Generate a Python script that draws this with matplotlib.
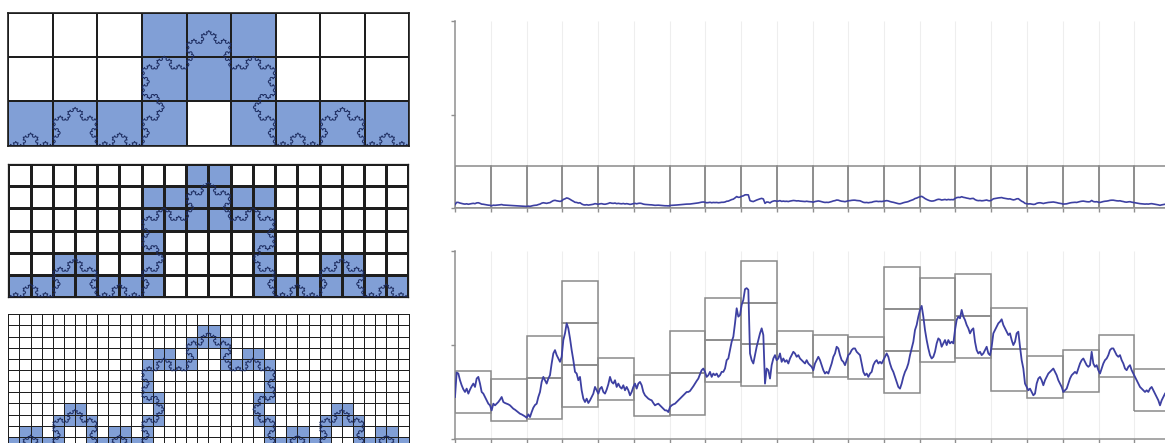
import numpy as np
import matplotlib.pyplot as plt
from matplotlib.colors import ListedColormap
from matplotlib.patches import Rectangle

# occupied boxes for the Koch curve, one list of columns per row (row 0 = bottom)
grid9 = [[0, 1, 2, 3, 5, 6, 7, 8],
         [3, 4, 5],
         [3, 4, 5]]
grid18 = [[0, 1, 2, 3, 4, 5, 6, 11, 12, 13, 14, 15, 16, 17],
          [2, 3, 6, 11, 14, 15],
          [6, 11],
          [6, 7, 8, 9, 10, 11],
          [6, 7, 8, 9, 10, 11],
          [8, 9]]
grid36 = [[0, 1, 2, 3, 4, 7, 8, 9, 10, 11, 12, 23, 24, 25, 26, 27, 28, 31, 32, 33, 34, 35],
          [1, 2, 4, 7, 9, 10, 12, 23, 25, 26, 28, 31, 33, 34],
          [4, 5, 6, 7, 12, 13, 22, 23, 28, 29, 30, 31],
          [5, 6, 13, 22, 29, 30],
          [12, 13, 22, 23],
          [12, 23],
          [12, 23],
          [12, 13, 14, 15, 16, 19, 20, 21, 22, 23],
          [13, 14, 16, 19, 21, 22],
          [16, 17, 18, 19],
          [17, 18],
          []]

# the walk, 21.45 samples per box
signal = [
    124, 197, 194, 174, 159, 147, 139, 149, 134, 146,
    156, 164, 154, 179, 184, 164, 139, 134, 124, 114,
    104, 99, 84, 104, 99, 104, 109, 116, 124, 109,
    106, 104, 102, 99, 94, 89, 86, 82, 78, 74,
    72, 69, 66, 62, 72, 64, 79, 92, 100, 104,
    124, 139, 169, 184, 174, 164, 179, 189, 224, 254,
    264, 249, 239, 229, 244, 294, 314, 344, 329, 299,
    264, 234, 199, 194, 174, 184, 144, 119, 109, 119,
    106, 114, 124, 134, 154, 144, 134, 149, 154, 139,
    134, 146, 162, 184, 169, 164, 174, 154, 164, 154,
    149, 159, 144, 154, 144, 129, 139, 154, 164, 149,
    164, 169, 159, 139, 129, 124, 119, 116, 114, 106,
    99, 102, 104, 99, 94, 89, 84, 84, 79, 94,
    99, 102, 104, 109, 114, 119, 124, 129, 134, 139,
    139,
    142, 149, 156, 164, 172, 179, 192, 204, 209, 199,
    184, 189, 199, 184, 194, 189, 194, 184, 189, 199,
    199, 209, 234, 239, 264, 289, 304, 344, 389, 364,
    369, 399, 414, 446, 449, 444, 254, 234, 224, 249,
    274, 294, 314, 329, 309, 164, 209, 204, 179, 219,
    239, 249, 234, 239, 254, 229, 239, 229, 234, 224,
    239, 249, 259, 254, 244, 249, 239, 234, 229, 224,
    234, 224, 219, 214, 204, 224, 234, 244, 234, 219,
    204, 194, 199, 194, 209, 224, 244, 254, 274, 269,
    249, 234, 229, 219, 234, 249, 254, 264, 269, 269,
    259, 254, 249, 224, 199, 189, 194, 184, 194, 199,
    219, 229, 234, 224, 229, 224, 234, 244, 254, 244,
    224, 209, 199, 184, 169, 154, 149, 164, 184, 199,
    209, 224, 249, 269, 289, 324, 339, 364, 384, 396,
    364, 324, 294, 269,
    249, 239, 244, 259, 284, 299, 294, 274, 284, 294,
    279, 294, 284, 289, 284, 324, 354, 364, 359, 384,
    364, 354, 339, 329, 314, 324, 329, 289, 264, 254,
    259, 249, 254, 264, 274, 254, 249, 274, 314, 324,
    334, 344, 349, 356, 339, 329, 319, 309, 314, 294,
    279, 289, 314, 319, 274, 234, 209, 164, 154, 144,
    149, 139, 129, 134, 164, 179, 184, 174, 159, 174,
    184, 194, 199, 204, 209, 199, 189, 174, 164, 154,
    139, 144, 149, 164, 179, 189, 194, 199, 194, 209,
    224, 234, 239, 229, 219, 214, 219, 259, 224, 214,
    219, 204, 194, 209, 224, 234, 239, 249, 264, 269,
    269, 259, 249, 244, 249, 234, 224, 209, 204, 214,
    219, 204, 194, 184, 174, 164, 154, 149, 144, 139,
    144, 139, 149, 154, 144, 134, 124, 114, 99, 114,
    124, 134,
]
per_box = 21.45

# fine boxes stacked in each window: lowest edge and how many
box_bottom = [76, 52, 57, 94, 116, 66, 71, 169, 156, 197,
              184, 177, 137, 229, 241, 141, 121, 139, 184, 82]
box_count = [1, 1, 2, 3, 1, 1, 2, 2, 3, 1, 1, 1, 3, 2, 2, 2, 1, 1, 1, 1]
box_h = 125
coarse = 0.09   # vertical squeeze of the walk in the upper plot

fill = '#819fd6'
edge = '#1e1e1e'
navy = '#1c2b5e'
walk_col = '#3d40a2'
box_col = '#8a8a8a'
axis_col = '#8f8f8f'


def koch(level):
    pts = np.array([[0.0, 0.0], [1.0, 0.0]])
    c, s = 0.5, np.sqrt(3) / 2
    for _ in range(level):
        new = [pts[0]]
        for a, b in zip(pts[:-1], pts[1:]):
            d = (b - a) / 3
            p1 = a + d
            peak = p1 + np.array([c * d[0] - s * d[1], s * d[0] + c * d[1]])
            new += [p1, peak, a + 2 * d, b]
        pts = np.array(new)
    return pts


def draw_boxes(ax, rows, ncol, nrow, lw):
    mask = np.zeros((nrow, ncol))
    for r, cols in enumerate(rows):
        mask[r, cols] = 1
    ax.pcolormesh(np.arange(ncol + 1), np.arange(nrow + 1), mask,
                  cmap=ListedColormap(['white', fill]), vmin=0, vmax=1,
                  edgecolors=edge, linewidth=lw)
    k = koch(5) * ncol
    ax.plot(k[:, 0], k[:, 1], color=navy, lw=0.7)
    ax.set_xlim(0, ncol)
    ax.set_ylim(0, nrow)
    ax.set_xticks([])
    ax.set_yticks([])
    for sp in ax.spines.values():
        sp.set_color(edge)
        sp.set_linewidth(lw)


W, H = 1165, 443
fig = plt.figure(figsize=(W / 100, H / 100), dpi=100)


def px_axes(x0, y0, x1, y1):
    return fig.add_axes([x0 / W, 1 - y1 / H, (x1 - x0) / W, (y1 - y0) / H])


draw_boxes(px_axes(8.3, 12.7, 409.3, 145.7), grid9, 9, 3, 1.2)
draw_boxes(px_axes(8.3, 164.3, 408.5, 296.7), grid18, 18, 6, 0.9)
draw_boxes(px_axes(8.3, 314.3, 408.7, 447.9), grid36, 36, 12, 0.72)

x = np.arange(len(signal)) / per_box
y = np.array(signal, dtype=float)
ncols = len(box_count)

ax_top = px_axes(455, 20.7, 1170, 208.3)
ax_bot = px_axes(455, 251, 1170, 438.5)

for ax in (ax_top, ax_bot):
    ax.set_xlim(0, ncols)
    ax.set_ylim(0, 560)
    ax.vlines(np.arange(1, ncols + 1), 0, 560, color='#eeeeee', lw=0.8, zorder=0)
    for side in ('top', 'right'):
        ax.spines[side].set_visible(False)
    for side in ('left', 'bottom'):
        ax.spines[side].set_color(axis_col)
        ax.spines[side].set_linewidth(1.1)
    ax.set_yticks([0, 280, 560])
    ax.set_xticks(np.arange(ncols + 1))
    ax.set_xticklabels([])
    ax.set_yticklabels([])
    ax.tick_params(length=3, width=1, color=axis_col)

# coarse scale: one box per window
ax_top.plot(x, y * coarse, color=walk_col, lw=1.2, zorder=3)
for c in range(ncols):
    ax_top.add_patch(Rectangle((c, 0), 1, box_h, fill=False,
                               edgecolor=box_col, lw=1.1, zorder=2))

# fine scale: stacked boxes covering the walk inside each window
ax_bot.plot(x, y, color=walk_col, lw=1.3, zorder=3)
for c in range(ncols):
    for k in range(box_count[c]):
        ax_bot.add_patch(Rectangle((c, box_bottom[c] + k * box_h), 1, box_h,
                                   fill=False, edgecolor=box_col, lw=1.1, zorder=2))

fig.savefig('out.png', dpi=100)
